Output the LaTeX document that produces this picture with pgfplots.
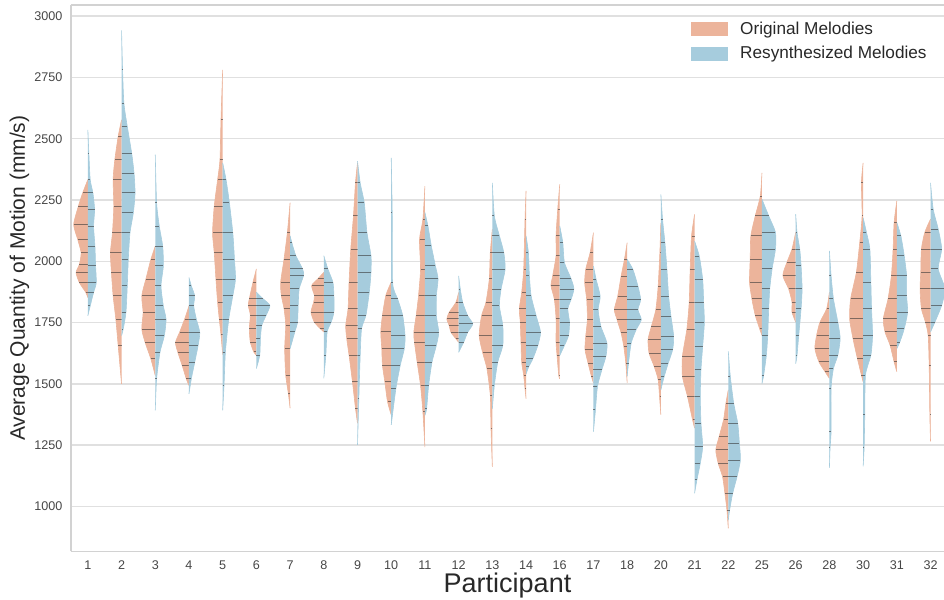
\documentclass[border=0pt]{standalone}
\usepackage{fontspec}
\setmainfont{Liberation Sans}
\usepackage{pgfplots}
\usepackage{pgfplotstable}
\pgfplotsset{compat=1.18}
\definecolor{orgc}{RGB}{236,180,155}
\definecolor{resc}{RGB}{166,204,221}
\definecolor{gridc}{RGB}{224,224,224}
\definecolor{spinec}{RGB}{210,210,210}
\definecolor{stickc}{RGB}{55,55,55}
\definecolor{tickc}{RGB}{70,70,70}
\definecolor{labelc}{RGB}{40,40,40}

% half-violin profiles: y value, half width (category units)
\pgfplotstableread[row sep=\\]{y w\\2333 0\\2280 .15\\2225 .28\\2150 .42\\2089 .30\\2035 .20\\1988 .25\\1954 .35\\1913 .25\\1873 .06\\1852 0\\}\tOa
\pgfplotstableread[row sep=\\]{y w\\2536 0\\2440 .03\\2333 .07\\2279 .15\\2211 .20\\2143 .17\\2062 .21\\1981 .23\\1913 .25\\1873 .17\\1818 .07\\1778 0\\}\tBa
\pgfplotstableread[row sep=\\]{y w\\2577 0\\2509 .10\\2414 .20\\2333 .25\\2225 .23\\2116 .27\\2035 .33\\1954 .30\\1859 .25\\1764 .17\\1656 .10\\1500 0\\}\tOb
\pgfplotstableread[row sep=\\]{y w\\2942 0\\2780 .03\\2644 .07\\2550 .17\\2441 .30\\2360 .37\\2279 .40\\2198 .35\\2116 .25\\2008 .20\\1900 .17\\1791 .13\\1724 .05\\1697 0\\}\tBb
\pgfplotstableread[row sep=\\]{y w\\2062 0\\2008 .13\\1927 .28\\1859 .40\\1791 .36\\1724 .40\\1669 .30\\1602 .13\\1534 0\\}\tOc
\pgfplotstableread[row sep=\\]{y w\\2435 0\\2238 .04\\2143 .12\\2062 .22\\1981 .24\\1900 .17\\1818 .24\\1764 .32\\1697 .27\\1629 .14\\1521 .04\\1392 0\\}\tBc
\pgfplotstableread[row sep=\\]{y w\\1818 0\\1764 .13\\1710 .28\\1669 .40\\1629 .33\\1575 .20\\1521 .08\\1494 0\\}\tOd
\pgfplotstableread[row sep=\\]{y w\\1934 0\\1900 .07\\1859 .17\\1818 .14\\1764 .22\\1710 .32\\1656 .27\\1588 .17\\1521 .07\\1460 0\\}\tBd
\pgfplotstableread[row sep=\\]{y w\\2780 0\\2577 .05\\2414 .08\\2333 .15\\2225 .25\\2116 .30\\2035 .25\\1927 .20\\1832 .15\\1764 .10\\1700 .05\\1620 0\\}\tOe
\pgfplotstableread[row sep=\\]{y w\\2401 0\\2333 .10\\2238 .20\\2116 .30\\2008 .35\\1927 .38\\1859 .30\\1764 .18\\1629 .08\\1494 .04\\1392 0\\}\tBe
\pgfplotstableread[row sep=\\]{y w\\1969 0\\1915 .10\\1847 .21\\1820 .24\\1780 .18\\1725 .21\\1671 .18\\1631 .08\\1617 0\\}\tOf
\pgfplotstableread[row sep=\\]{y w\\1874 0\\1847 .20\\1820 .40\\1780 .29\\1739 .16\\1685 .12\\1617 .10\\1563 0\\}\tBf
\pgfplotstableread[row sep=\\]{y w\\2239 0\\2118 .08\\2009 .18\\1915 .28\\1861 .26\\1807 .18\\1739 .13\\1644 .16\\1536 .13\\1460 .05\\1401 0\\}\tOg
\pgfplotstableread[row sep=\\]{y w\\2104 0\\2077 .05\\2023 .17\\1969 .37\\1942 .40\\1888 .27\\1820 .24\\1752 .22\\1712 .14\\1644 0\\}\tBg
\pgfplotstableread[row sep=\\]{y w\\1955 0\\1928 .18\\1901 .36\\1861 .28\\1834 .30\\1793 .38\\1752 .28\\1725 .10\\1712 0\\}\tOh
\pgfplotstableread[row sep=\\]{y w\\2023 0\\1969 .12\\1915 .27\\1861 .30\\1793 .30\\1752 .22\\1712 .10\\1617 .06\\1523 0\\}\tBh
\pgfplotstableread[row sep=\\]{y w\\2401 0\\2320 .06\\2185 .12\\2050 .20\\1915 .25\\1807 .28\\1739 .35\\1685 .32\\1617 .25\\1509 .15\\1401 .06\\1340 0\\}\tOi
\pgfplotstableread[row sep=\\]{y w\\2408 0\\2320 .08\\2239 .20\\2118 .28\\2023 .40\\1955 .40\\1874 .35\\1780 .25\\1725 .12\\1617 .08\\1442 .04\\1252 0\\}\tBi
\pgfplotstableread[row sep=\\]{y w\\1915 0\\1861 .16\\1780 .26\\1712 .31\\1644 .28\\1577 .26\\1509 .19\\1428 .11\\1374 0\\}\tOj
\pgfplotstableread[row sep=\\]{y w\\2422 0\\2200 .03\\1915 .04\\1847 .19\\1780 .34\\1698 .41\\1644 .39\\1577 .27\\1482 .14\\1333 0\\}\tBj
\pgfplotstableread[row sep=\\]{y w\\2307 0\\2171 .06\\2090 .16\\1968 .13\\1860 .19\\1778 .26\\1711 .33\\1670 .31\\1589 .23\\1494 .13\\1386 .06\\1243 0\\}\tOk
\pgfplotstableread[row sep=\\]{y w\\2199 0\\2144 .09\\2063 .19\\1982 .31\\1928 .39\\1860 .34\\1778 .34\\1711 .41\\1657 .34\\1589 .21\\1494 .11\\1399 .05\\1372 0\\}\tBk
\pgfplotstableread[row sep=\\]{y w\\1873 0\\1833 .08\\1792 .28\\1765 .35\\1738 .28\\1711 .23\\1684 .08\\1670 0\\}\tOl
\pgfplotstableread[row sep=\\]{y w\\1941 0\\1887 .05\\1833 .12\\1778 .27\\1745 .42\\1711 .27\\1670 .15\\1629 0\\}\tBl
\pgfplotstableread[row sep=\\]{y w\\2131 0\\2036 .06\\1928 .09\\1833 .19\\1778 .32\\1697 .39\\1629 .29\\1562 .16\\1453 .06\\1318 .04\\1162 0\\}\tOm
\pgfplotstableread[row sep=\\]{y w\\2320 0\\2185 .06\\2104 .21\\2036 .34\\1968 .38\\1887 .26\\1819 .21\\1738 .31\\1657 .31\\1589 .16\\1494 .06\\1399 0\\}\tBm
\pgfplotstableread[row sep=\\]{y w\\2287 0\\2171 .03\\1968 .07\\1873 .13\\1806 .20\\1751 .17\\1670 .15\\1589 .13\\1535 .07\\1480 .03\\1440 0\\}\tOn
\pgfplotstableread[row sep=\\]{y w\\2104 0\\2036 .07\\1941 .10\\1860 .15\\1778 .30\\1711 .43\\1657 .35\\1602 .20\\1570 .08\\1540 0\\}\tBn
\pgfplotstableread[row sep=\\]{y w\\2314 0\\2212 .06\\2104 .11\\2022 .11\\1941 .21\\1900 .26\\1846 .16\\1765 .11\\1670 .11\\1616 .08\\1535 .03\\1521 0\\}\tOo
\pgfplotstableread[row sep=\\]{y w\\2144 0\\2077 .09\\1995 .14\\1928 .34\\1887 .42\\1846 .34\\1806 .24\\1751 .29\\1697 .26\\1657 .14\\1616 0\\}\tBo
\pgfplotstableread[row sep=\\]{y w\\2117 0\\2035 .10\\1967 .23\\1912 .26\\1844 .20\\1762 .18\\1694 .23\\1640 .25\\1585 .16\\1531 .06\\1504 0\\}\tOp
\pgfplotstableread[row sep=\\]{y w\\1980 0\\1926 .08\\1858 .20\\1803 .14\\1735 .22\\1667 .40\\1613 .37\\1558 .25\\1490 .12\\1395 .06\\1306 0\\}\tBp
\pgfplotstableread[row sep=\\]{y w\\2076 0\\2008 .08\\1939 .18\\1858 .28\\1803 .38\\1762 .30\\1708 .18\\1653 .10\\1585 .04\\1504 0\\}\tOq
\pgfplotstableread[row sep=\\]{y w\\2008 0\\1967 .17\\1899 .32\\1844 .40\\1803 .32\\1762 .42\\1722 .27\\1667 .12\\1585 .04\\1531 0\\}\tBq
\pgfplotstableread[row sep=\\]{y w\\2157 0\\2035 .03\\1899 .08\\1803 .15\\1735 .28\\1681 .38\\1626 .35\\1572 .20\\1517 .08\\1449 .04\\1374 0\\}\tOr
\pgfplotstableread[row sep=\\]{y w\\2273 0\\2171 .05\\2076 .12\\1967 .18\\1858 .23\\1776 .30\\1694 .38\\1640 .35\\1585 .22\\1531 .10\\1476 0\\}\tBr
\pgfplotstableread[row sep=\\]{y w\\2191 0\\2103 .09\\1967 .13\\1831 .16\\1722 .23\\1613 .36\\1531 .36\\1449 .21\\1354 .06\\1320 0\\}\tOs
\pgfplotstableread[row sep=\\]{y w\\2082 0\\2021 .14\\1926 .24\\1831 .27\\1749 .29\\1653 .24\\1558 .19\\1449 .17\\1340 .19\\1245 .24\\1177 .17\\1109 .07\\1054 0\\}\tBs
\pgfplotstableread[row sep=\\]{y w\\1476 0\\1422 .07\\1354 .14\\1286 .27\\1231 .37\\1177 .30\\1122 .17\\1054 .10\\986 .04\\911 0\\}\tOt
\pgfplotstableread[row sep=\\]{y w\\1633 0\\1531 .06\\1422 .16\\1340 .28\\1258 .33\\1190 .36\\1122 .26\\1054 .13\\986 .04\\945 0\\}\tBt
\pgfplotstableread[row sep=\\]{y w\\2361 0\\2266 .05\\2185 .20\\2104 .33\\2009 .35\\1915 .37\\1847 .30\\1780 .20\\1725 .07\\1698 0\\}\tOu
\pgfplotstableread[row sep=\\]{y w\\2253 0\\2185 .20\\2118 .40\\2050 .40\\1969 .30\\1888 .23\\1807 .20\\1698 .17\\1617 .13\\1536 .05\\1502 0\\}\tBu
\pgfplotstableread[row sep=\\]{y w\\2118 0\\2050 .11\\1996 .26\\1942 .38\\1888 .21\\1834 .11\\1793 .11\\1752 0\\}\tOv
\pgfplotstableread[row sep=\\]{y w\\2192 0\\2118 .04\\2050 .12\\1982 .16\\1888 .19\\1807 .16\\1698 .09\\1617 .04\\1583 0\\}\tBv
\pgfplotstableread[row sep=\\]{y w\\1874 0\\1807 .08\\1752 .28\\1698 .38\\1644 .43\\1590 .31\\1550 .13\\1523 0\\}\tOw
\pgfplotstableread[row sep=\\]{y w\\2043 0\\1942 .05\\1847 .12\\1752 .25\\1685 .32\\1617 .25\\1563 .12\\1482 .05\\1306 .05\\1239 .02\\1158 0\\}\tBw
\pgfplotstableread[row sep=\\]{y w\\2401 0\\2320 .05\\2185 .03\\2077 .10\\1955 .20\\1847 .37\\1766 .40\\1685 .30\\1604 .17\\1536 .05\\1509 0\\}\tOx
\pgfplotstableread[row sep=\\]{y w\\2178 0\\2118 .10\\2050 .20\\1915 .23\\1807 .25\\1698 .28\\1617 .23\\1536 .07\\1374 .05\\1239 .03\\1164 0\\}\tBx
\pgfplotstableread[row sep=\\]{y w\\2246 0\\2158 .08\\2050 .11\\1942 .16\\1847 .26\\1766 .40\\1712 .35\\1658 .20\\1590 .08\\1550 0\\}\tOy
\pgfplotstableread[row sep=\\]{y w\\2158 0\\2104 .12\\2023 .22\\1942 .29\\1861 .29\\1793 .32\\1725 .22\\1671 .09\\1644 0\\}\tBy
\pgfplotstableread[row sep=\\]{y w\\2172 0\\2118 .17\\2050 .27\\1955 .29\\1888 .31\\1807 .27\\1752 .15\\1698 .07\\1577 .04\\1374 .02\\1266 0\\}\tOz
\pgfplotstableread[row sep=\\]{y w\\2320 0\\2212 .08\\2131 .23\\2050 .33\\1969 .23\\1888 .43\\1820 .33\\1752 .13\\1712 0\\}\tBz

\newcommand\halfv[4]{%
  \addplot[forget plot, fill=#3, draw=#3, line width=0.3pt, smooth, tension=0.4]
    table[x expr={#1+(#2)*\thisrow{w}}, y=y] {#4};
  \addplot[forget plot, draw=stickc, draw opacity=0.6, line width=0.5pt, no markers,
    quiver={u={(#2)*\thisrow{w}}, v=0}]
    table[x expr={#1}, y=y] {#4};
}
\newcommand\violin[3]{\halfv{#1}{-1}{orgc}{#2}\halfv{#1}{1}{resc}{#3}}

\begin{document}
\begin{tikzpicture}
\begin{axis}[
  scale only axis, width=436.5pt, height=273.25pt,
  xmin=-0.5, xmax=25.4, ymin=817, ymax=3045,
  axis x line=box, axis y line=left,
  axis line style={draw=spinec, line width=0.8pt, -},
  xtick={0,...,25},
  xticklabels={1,2,3,4,5,6,7,8,9,10,11,12,13,14,16,17,18,20,21,22,25,26,28,30,31,32},
  ytick={1000,1250,...,3000},
  major tick length=0pt,
  ymajorgrids, grid style={draw=gridc, line width=0.8pt},
  tick label style={font=\fontsize{6.3}{7}\selectfont, text=tickc},
  /pgf/number format/assume math mode=true,
  /pgf/number format/1000 sep={},
  yticklabel style={inner sep=0pt, xshift=-4.15pt},
  xticklabel style={inner sep=0pt, yshift=-4.25pt},
  xlabel={Participant},
  ylabel={Average Quantity of Motion (mm/s)},
  xlabel style={font=\fontsize{13.5}{15}\selectfont, text=labelc, at={(rel axis cs:0.5,-0.0759)}, anchor=base},
  ylabel style={font=\fontsize{10.5}{12}\selectfont, text=labelc, at={(rel axis cs:-0.0527,0.5)}, anchor=base},
  legend cell align=left,
  legend image code/.code={\draw[#1] (0pt,-3.25pt) rectangle (18pt,3.25pt);},
  legend style={draw=none, fill=none, at={(rel axis cs:0.7102,0.974)}, anchor=north west,
    inner sep=0pt, row sep=2.5pt, font=\fontsize{8.6}{9.5}\selectfont, text=labelc,
    nodes={inner sep=1pt}, /tikz/every odd column/.append style={column sep=5pt}},
]
\violin{0}{\tOa}{\tBa}
\violin{1}{\tOb}{\tBb}
\violin{2}{\tOc}{\tBc}
\violin{3}{\tOd}{\tBd}
\violin{4}{\tOe}{\tBe}
\violin{5}{\tOf}{\tBf}
\violin{6}{\tOg}{\tBg}
\violin{7}{\tOh}{\tBh}
\violin{8}{\tOi}{\tBi}
\violin{9}{\tOj}{\tBj}
\violin{10}{\tOk}{\tBk}
\violin{11}{\tOl}{\tBl}
\violin{12}{\tOm}{\tBm}
\violin{13}{\tOn}{\tBn}
\violin{14}{\tOo}{\tBo}
\violin{15}{\tOp}{\tBp}
\violin{16}{\tOq}{\tBq}
\violin{17}{\tOr}{\tBr}
\violin{18}{\tOs}{\tBs}
\violin{19}{\tOt}{\tBt}
\violin{20}{\tOu}{\tBu}
\violin{21}{\tOv}{\tBv}
\violin{22}{\tOw}{\tBw}
\violin{23}{\tOx}{\tBx}
\violin{24}{\tOy}{\tBy}
\violin{25}{\tOz}{\tBz}
\addlegendimage{fill=orgc, draw=orgc}
\addlegendentry{Original Melodies}
\addlegendimage{fill=resc, draw=resc}
\addlegendentry{Resynthesized Melodies}
\coordinate (sw) at (rel axis cs:0,0);
\coordinate (ne) at (rel axis cs:1,1);
\end{axis}
\pgfresetboundingbox
\path[use as bounding box] ([xshift=-35.5pt,yshift=-24.25pt]sw) rectangle ([yshift=2.5pt]ne);
\end{tikzpicture}
\end{document}
